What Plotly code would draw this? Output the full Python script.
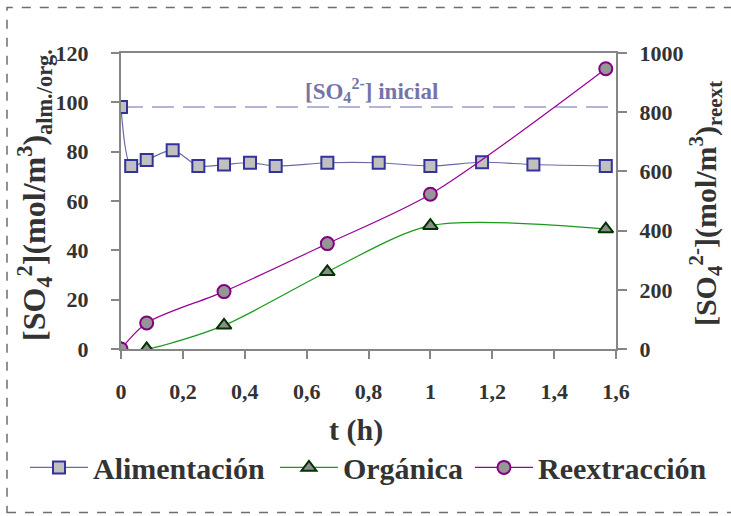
import plotly.graph_objects as go

# Time (h) and concentrations of sulfate in each phase
t_alim = [0, 0.033, 0.083, 0.167, 0.25, 0.333, 0.417, 0.5, 0.667, 0.833, 1.0, 1.167, 1.333, 1.567]
c_alim = [98.1, 74.2, 76.6, 80.6, 74.2, 74.8, 75.5, 74.2, 75.5, 75.5, 74.2, 75.7, 74.8, 74.2]

t_org = [0, 0.083, 0.333, 0.667, 1.0, 1.567]
c_org = [0, 0, 9.6, 31.3, 50.0, 48.6]

t_reext = [0, 0.083, 0.333, 0.667, 1.0, 1.567]
c_reext = [0, 88, 194, 356, 523, 947]

initial_conc = 98.1
initial_span = [0, 1.6]

FONT = "Liberation Serif, Times New Roman, serif"
TXT = "#333333"
AXIS = "#868686"

fig = go.Figure()

# reference line for the initial concentration
fig.add_trace(go.Scatter(
    x=initial_span, y=[initial_conc, initial_conc], mode="lines",
    line=dict(color="#9c9cc8", width=1.5, dash="22px,9px"),
    showlegend=False, hoverinfo="skip"))

fig.add_trace(go.Scatter(
    x=t_alim, y=c_alim, name="Alimentación", mode="lines+markers", legend="legend",
    line=dict(color="#6a6aa8", width=1.2, shape="spline", smoothing=0.8),
    marker=dict(symbol="square", size=12, color="#c0c0c0",
                line=dict(color="#333399", width=2))))

fig.add_trace(go.Scatter(
    x=t_org, y=c_org, name="Orgánica", mode="lines+markers", legend="legend2",
    line=dict(color="#1a9a1a", width=1.2, shape="spline", smoothing=0.8),
    marker=dict(symbol="triangle-up", size=13, color="#8c8c8c",
                line=dict(color="#003300", width=2))))

fig.add_trace(go.Scatter(
    x=t_reext, y=c_reext, name="Reextracción", mode="lines+markers", yaxis="y2",
    legend="legend3",
    line=dict(color="#990099", width=1.2, shape="spline", smoothing=0.8),
    marker=dict(symbol="circle", size=13, color="#969696",
                line=dict(color="#800080", width=2))))

tickfont = dict(family=FONT, size=22, color=TXT, weight="bold")


def legend_box(x):
    return dict(orientation="h", x=x, xanchor="left", y=-0.40, yanchor="middle",
                font=dict(family=FONT, size=30, color=TXT, weight="bold"),
                bgcolor="rgba(0,0,0,0)", itemwidth=58, borderwidth=0)


fig.update_layout(
    width=731, height=516,
    margin=dict(l=121, r=115, t=53, b=167, autoexpand=False),
    paper_bgcolor="white", plot_bgcolor="white",
    separators=",.",
    font=dict(family=FONT, color=TXT),
    xaxis=dict(range=[0, 1.6], dtick=0.2, tick0=0, showgrid=False, zeroline=False,
               showline=True, linecolor=AXIS, linewidth=2, mirror=True,
               ticks="outside", ticklen=8, tickcolor=AXIS, tickwidth=1.5,
               tickfont=tickfont, ticklabelstandoff=14),
    yaxis=dict(range=[0, 120], dtick=20, showgrid=False, zeroline=False,
               showline=True, linecolor=AXIS, linewidth=2,
               ticks="outside", ticklen=8, tickcolor=AXIS, tickwidth=1.5,
               tickfont=tickfont, ticklabelstandoff=18),
    yaxis2=dict(range=[0, 1000], dtick=200, overlaying="y", side="right",
                showgrid=False, zeroline=False,
                showline=True, linecolor=AXIS, linewidth=2,
                ticks="outside", ticklen=9, tickcolor=AXIS, tickwidth=1.5,
                tickfont=tickfont, ticklabelstandoff=8),
    legend=legend_box(-0.194),
    legend2=legend_box(0.311),
    legend3=legend_box(0.705),
    showlegend=True,
)

# chart area border
fig.add_shape(type="rect", xref="paper", yref="paper",
              x0=-0.2303, x1=1.32, y0=-0.552, y1=1.154,
              line=dict(color="#6e6e6e", width=1.5, dash="dash"), layer="below")

fig.add_annotation(xref="x", yref="y", x=0.81, y=105, showarrow=False,
                   text="<b>[SO<sub>4</sub><sup>2-</sup>] inicial</b>",
                   font=dict(family=FONT, size=23, color="#7474a8"))

fig.add_annotation(xref="paper", yref="paper", x=0.474, y=-0.272, showarrow=False,
                   text="<b>t (h)</b>", yanchor="middle",
                   font=dict(family=FONT, size=30, color=TXT))

fig.add_annotation(xref="paper", yref="paper", x=-0.176, y=0.52, showarrow=False,
                   textangle=-90, xanchor="center", yanchor="middle",
                   text="<b>[SO<sub>4</sub><sup>2</sup>](mol/m<sup>3</sup>)<sub>alm./org.</sub></b>",
                   font=dict(family=FONT, size=32, color=TXT))

fig.add_annotation(xref="paper", yref="paper", x=1.182, y=0.49, showarrow=False,
                   textangle=-90, xanchor="center", yanchor="middle",
                   text="<b>[SO<sub>4</sub><sup>2-</sup>](mol/m<sup>3</sup>)<sub>reext</sub></b>",
                   font=dict(family=FONT, size=30, color=TXT))

fig.write_html("out.html")
